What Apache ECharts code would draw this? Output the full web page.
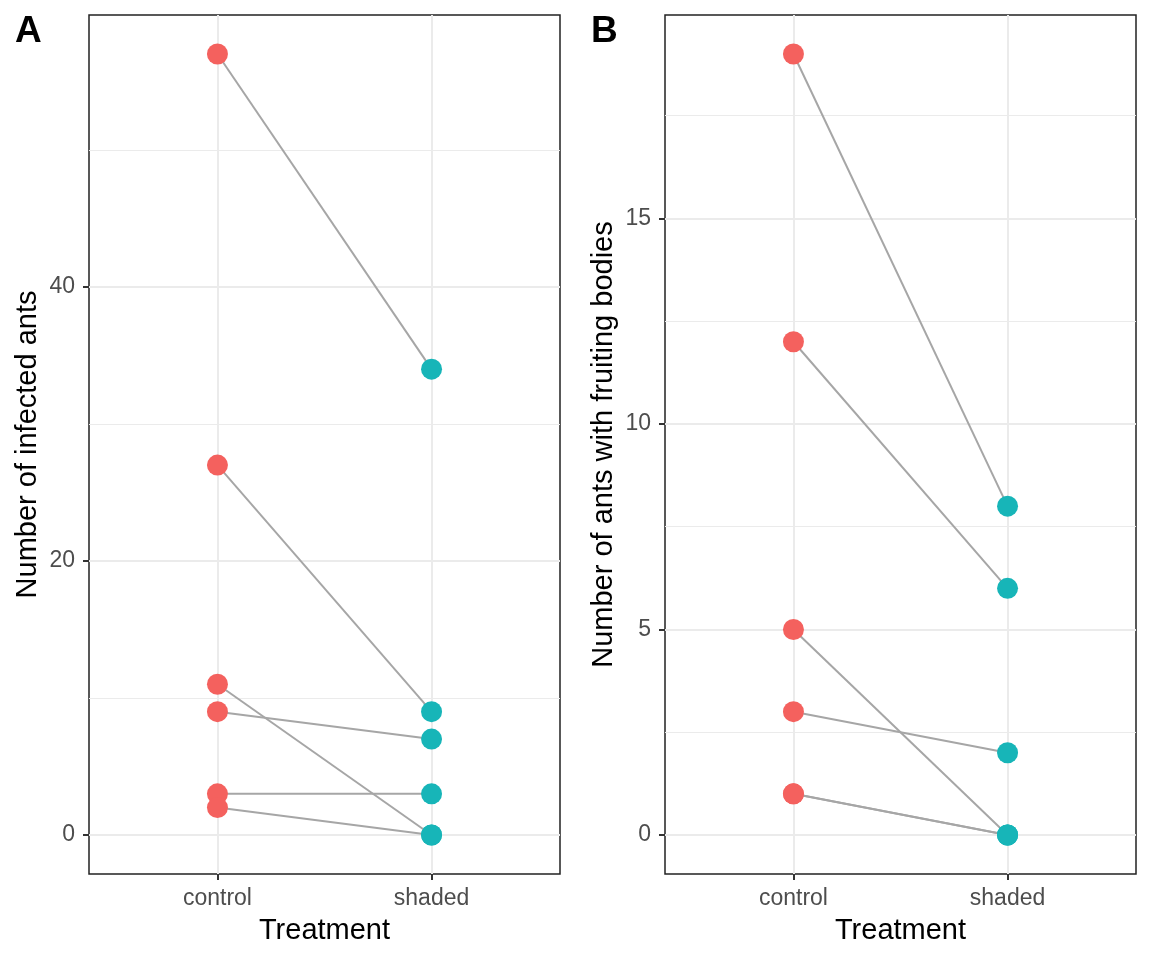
<!DOCTYPE html>
<html>
<head>
<meta charset="utf-8">
<script src="https://cdn.jsdelivr.net/npm/echarts@6/dist/echarts.min.js"></script>
<style>
  html, body { margin: 0; padding: 0; background: #fff; }
  #chart { width: 1152px; height: 960px; }
</style>
</head>
<body>
<div id="chart"></div>
<script>
// data
const treatments = ['control', 'shaded'];
const infectedControl = [57, 27, 11, 9, 3, 2];
const infectedShaded = [34, 9, 0, 7, 3, 0];
const fruitingControl = [19, 12, 5, 3, 1, 1];
const fruitingShaded = [8, 6, 0, 2, 0, 0];
const ticksA = [0, 20, 40];
const minorA = [10, 30, 50];
const ticksB = [0, 5, 10, 15];
const minorB = [2.5, 7.5, 12.5, 17.5];

const RED = '#F4615E';
const TEAL = '#17B5B8';
const GRID = '#EBEBEB';
const FONT = 'Liberation Sans, Arial, sans-serif';

document.addEventListener('DOMContentLoaded', function() {
    const chart = echarts.init(document.getElementById('chart'));

    // ggplot style 5% padding around the data
    function range(a, b) {
        const all = a.concat(b);
        const lo = Math.min.apply(null, all), hi = Math.max.apply(null, all);
        const pad = (hi - lo) * 0.05;
        return [lo - pad, hi + pad];
    }
    const rA = range(infectedControl, infectedShaded);
    const rB = range(fruitingControl, fruitingShaded);

    function xAxis(gi) {
        return {
            type: 'value', gridIndex: gi, min: 0.4, max: 2.6, position: 'bottom',
            name: 'Treatment', nameLocation: 'middle', nameGap: 42,
            nameTextStyle: { color: '#000', fontSize: 29, fontFamily: FONT },
            axisLine: { show: false, onZero: false },
            axisTick: { show: true, length: 6, customValues: [1, 2], lineStyle: { color: '#333', width: 2 } },
            axisLabel: {
                customValues: [1, 2], margin: 13, color: '#4D4D4D', fontSize: 23, fontFamily: FONT,
                formatter: function(v) { return treatments[Math.round(v) - 1]; }
            },
            splitLine: { show: true, lineStyle: { color: GRID, width: 2 } }
        };
    }
    function yMajor(gi, r, ticks, name) {
        return {
            type: 'value', gridIndex: gi, min: r[0], max: r[1], position: 'left',
            name: name, nameLocation: 'middle', nameGap: 47,
            nameTextStyle: { color: '#000', fontSize: 29, fontFamily: FONT },
            axisLine: { show: false, onZero: false },
            axisTick: { show: true, length: 6, customValues: ticks, lineStyle: { color: '#333', width: 2 } },
            axisLabel: { customValues: ticks, margin: 14, color: '#4D4D4D', fontSize: 23, fontFamily: FONT, padding: [4, 0, 0, 0] },
            splitLine: { show: true, lineStyle: { color: GRID, width: 2 } }
        };
    }
    function yMinor(gi, r, ticks) {
        return {
            type: 'value', gridIndex: gi, min: r[0], max: r[1], position: 'right',
            axisLine: { show: false, onZero: false },
            axisTick: { show: false, customValues: ticks },
            axisLabel: { show: false },
            splitLine: { show: true, lineStyle: { color: GRID, width: 1 } }
        };
    }

    const series = [];
    function addPanel(gi, ctrl, shad) {
        for (let i = 0; i < ctrl.length; i++) {
            series.push({
                type: 'line', xAxisIndex: gi, yAxisIndex: gi * 2,
                data: [[1, ctrl[i]], [2, shad[i]]],
                symbol: 'none', silent: true, z: 2,
                lineStyle: { color: '#A6A6A6', width: 2 }
            });
        }
        series.push({
            type: 'scatter', xAxisIndex: gi, yAxisIndex: gi * 2, z: 3,
            data: ctrl.map(function(v) { return [1, v]; }),
            symbolSize: 21, itemStyle: { color: RED, opacity: 1 }
        });
        series.push({
            type: 'scatter', xAxisIndex: gi, yAxisIndex: gi * 2, z: 3,
            data: shad.map(function(v) { return [2, v]; }),
            symbolSize: 21, itemStyle: { color: TEAL, opacity: 1 }
        });
    }
    addPanel(0, infectedControl, infectedShaded);
    addPanel(1, fruitingControl, fruitingShaded);

    chart.setOption({
        animation: false,
        title: [
            { text: 'A', left: 10, top: 8, textStyle: { fontSize: 37, fontWeight: 'bold', color: '#000', fontFamily: FONT } },
            { text: 'B', left: 586, top: 8, textStyle: { fontSize: 37, fontWeight: 'bold', color: '#000', fontFamily: FONT } }
        ],
        grid: [
            { left: 89, top: 15, width: 471, height: 859, show: true, borderColor: '#222', borderWidth: 1.5, backgroundColor: 'transparent' },
            { left: 665, top: 15, width: 471, height: 859, show: true, borderColor: '#222', borderWidth: 1.5, backgroundColor: 'transparent' }
        ],
        xAxis: [xAxis(0), xAxis(1)],
        yAxis: [
            yMajor(0, rA, ticksA, 'Number of infected ants'),
            yMinor(0, rA, minorA),
            yMajor(1, rB, ticksB, 'Number of ants with fruiting bodies'),
            yMinor(1, rB, minorB)
        ],
        series: series
    });

    window.addEventListener('resize', function() {
        chart.resize();
    });
});
</script>
</body>
</html>
